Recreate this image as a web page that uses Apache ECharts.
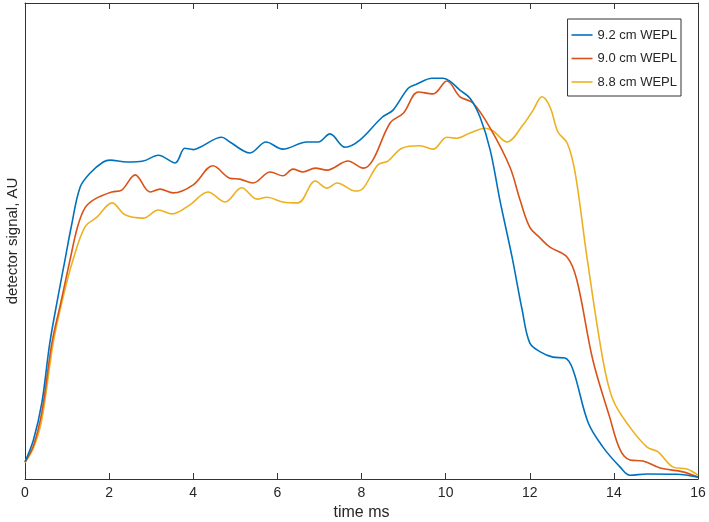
<!DOCTYPE html>
<html>
<head>
<meta charset="utf-8">
<script src="https://cdn.jsdelivr.net/npm/echarts@6/dist/echarts.min.js"></script>
<style>
html,body{margin:0;padding:0;background:#fff;}
#c{width:709px;height:522px;}
</style>
</head>
<body>
<div id="c"></div>
<script>
const seriesNames = ['9.2 cm WEPL', '9.0 cm WEPL', '8.8 cm WEPL'];
const xTicks = [0, 2, 4, 6, 8, 10, 12, 14, 16];

const blueT = [0,0.2,0.4,0.59,0.8,0.95,1.1,1.31,1.55,1.86,2.02,2.42,2.81,3.17,3.57,3.8,4.0,4.16,4.68,4.87,5.35,5.73,6.13,6.7,6.97,7.25,7.61,7.96,8.49,8.75,9.11,9.32,9.68,9.94,10.1,10.34,10.58,10.82,11.06,11.29,11.58,11.82,12.0,12.25,12.55,12.84,13.03,13.39,13.74,14.15,14.38,14.79,15.5,16];
const blueV = [3.6,8.2,16,28.6,39,46,53,61.3,64.3,66.6,67,66.6,66.8,68,66.4,69.5,69.2,69.7,71.8,70.8,68.5,70.8,69.3,70.8,70.8,72.5,69.7,71.2,76,77.5,82.1,83,84.2,84.2,83.6,81.7,80,76,69.1,58.6,46.6,35.5,28.6,26.7,25.6,25.4,22.9,11.8,6.7,2.5,0.8,1.05,1.0,0.4];

const orangeT = [0,0.2,0.4,0.64,0.85,1.07,1.25,1.43,1.66,2.07,2.3,2.62,2.97,3.21,3.52,4.0,4.47,4.87,5.11,5.42,5.83,6.13,6.37,6.61,6.9,7.18,7.68,8.04,8.27,8.68,9.0,9.35,9.7,10.03,10.34,10.65,11.06,11.53,11.77,12.0,12.25,12.48,12.89,13.12,13.5,13.9,14.15,14.38,14.69,15.1,15.64,16];
const orangeV = [3.6,7,14,28.6,37,46,53,57,58.8,60.3,60.7,63.9,60.3,60.9,60.1,61.8,65.8,63.2,63,62.2,64.5,63.7,65.1,64.5,65.3,64.9,66.8,65.3,67,74.8,76.9,81.3,80.9,83.6,80.3,79,73.7,65.5,58.6,52.9,50.6,48.7,46.6,41.8,25,13,6.1,4,3.8,2.3,1.5,0.4];

const yellowT = [0,0.2,0.4,0.67,0.9,1.14,1.43,1.71,2.07,2.38,2.81,3.17,3.5,3.92,4.35,4.76,5.15,5.52,5.75,6.13,6.49,6.9,7.18,7.42,7.85,8.04,8.39,8.63,8.96,9.39,9.7,10.03,10.27,10.58,10.94,11.13,11.46,11.84,12.08,12.29,12.48,12.67,12.89,13.08,13.36,13.74,13.98,14.38,14.79,15.05,15.41,15.74,16];
const yellowV = [3.4,6.5,12.5,28.6,38,46,53,55,58,55.5,54.8,56.5,55.7,57.6,60.3,58.2,61.2,58.8,59.2,58.2,58,62.6,61.1,62.2,60.5,61.1,66,66.8,69.5,70,69.3,71.8,71.6,72.7,73.7,73.1,70.8,74.4,77.5,80.3,78.2,72.9,70.6,64.3,46.6,25,16.6,10.9,6.7,5.7,2.5,2.1,0.8];

const colors = ['#0072BD', '#D95319', '#EDB120'];
const font = 'Liberation Sans, Arial, Helvetica, sans-serif';
const axisColor = '#333333';

function pairs(t, v) { return t.map((x, i) => [x, v[i]]); }

const chart = echarts.init(document.getElementById('c'), null, {renderer: 'canvas'});
const dataSets = [pairs(blueT, blueV), pairs(orangeT, orangeV), pairs(yellowT, yellowV)];

chart.setOption({
  animation: false,
  backgroundColor: '#ffffff',
  textStyle: {fontFamily: font},
  grid: {left: 25, right: 11, top: 3, bottom: 43, containLabel: false, outerBoundsMode: 'none'},
  legend: {
    orient: 'vertical',
    right: 28,
    top: 19,
    data: seriesNames,
    icon: 'rect',
    itemWidth: 21,
    itemHeight: 1.6,
    itemGap: 9.5,
    padding: [9, 4, 7, 4],
    borderColor: '#333333',
    borderWidth: 1,
    backgroundColor: '#ffffff',
    textStyle: {fontFamily: font, fontSize: 13, lineHeight: 14, color: '#262626'},
    selectedMode: false
  },
  xAxis: [{
    type: 'value',
    min: 0, max: 16, interval: 2,
    name: 'time ms',
    nameLocation: 'middle',
    nameGap: 26,
    nameTextStyle: {fontFamily: font, fontSize: 16, color: '#262626'},
    axisLine: {show: true, onZero: false, lineStyle: {color: axisColor, width: 1}},
    axisTick: {show: true, inside: true, length: 6, lineStyle: {color: axisColor}},
    axisLabel: {show: true, margin: 7, fontSize: 14, color: '#262626', fontFamily: font,
      formatter: v => (xTicks.indexOf(v) >= 0 ? String(v) : '')},
    splitLine: {show: false}
  }, {
    type: 'value',
    position: 'top',
    min: 0, max: 16, interval: 2,
    axisLine: {show: true, onZero: false, lineStyle: {color: axisColor, width: 1}},
    axisTick: {show: true, inside: true, length: 6, lineStyle: {color: axisColor}},
    axisLabel: {show: false},
    splitLine: {show: false}
  }],
  yAxis: [{
    type: 'value',
    min: 0, max: 100,
    name: 'detector signal, AU',
    nameLocation: 'middle',
    nameGap: 5,
    nameRotate: 90,
    nameTextStyle: {fontFamily: font, fontSize: 15, color: '#262626'},
    axisLine: {show: true, onZero: false, lineStyle: {color: axisColor, width: 1}},
    axisTick: {show: false},
    axisLabel: {show: false},
    splitLine: {show: false}
  }, {
    type: 'value',
    position: 'right',
    min: 0, max: 100,
    axisLine: {show: true, onZero: false, lineStyle: {color: axisColor, width: 1}},
    axisTick: {show: false},
    axisLabel: {show: false},
    splitLine: {show: false}
  }],
  series: seriesNames.map((name, i) => ({
    name: name,
    type: 'line',
    data: dataSets[i],
    smooth: 0.35,
    symbol: 'none',
    showSymbol: false,
    color: colors[i],
    lineStyle: {width: 1.6, color: colors[i]},
    z: 3 - i
  }))
});
</script>
</body>
</html>
